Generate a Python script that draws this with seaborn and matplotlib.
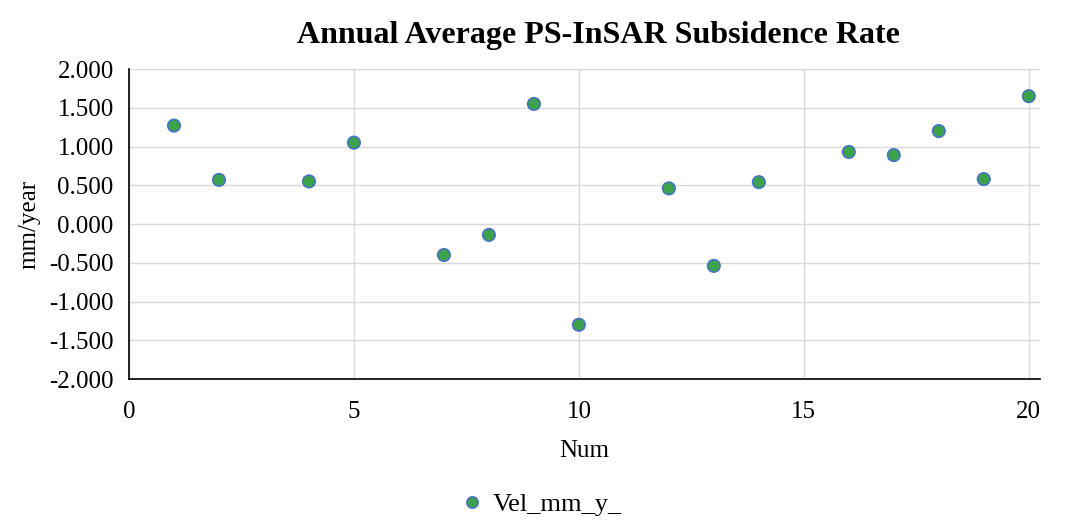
import matplotlib
matplotlib.use("Agg")
import matplotlib.pyplot as plt
import seaborn as sns
import pandas as pd
from matplotlib.ticker import FormatStrFormatter

num = [1, 2, 4, 5, 7, 8, 9, 10, 12, 13, 14, 16, 17, 18, 19, 20]
vel = [1.27, 0.57, 0.55, 1.05, -0.40, -0.14, 1.55, -1.30, 0.46, -0.54, 0.54, 0.93, 0.89, 1.20, 0.58, 1.65]
series_name = "Vel_mm_y_"

df = pd.DataFrame({"Num": num, "vel": vel, "series": series_name})

sns.set_style("white")
plt.rcParams['font.family'] = ['Liberation Serif', 'DejaVu Serif']
plt.rcParams['text.color'] = 'black'
plt.rcParams['axes.labelcolor'] = 'black'
plt.rcParams['xtick.color'] = 'black'
plt.rcParams['ytick.color'] = 'black'

fig = plt.figure(figsize=(10.68, 5.23), dpi=100)
ax = fig.add_axes([0.1208, 0.2753, 0.853, 0.5927])

sns.scatterplot(data=df, x="Num", y="vel", hue="series", palette=["#3da34a"],
                s=80, edgecolor="#4472c4", linewidth=1.2, ax=ax, zorder=3)

ax.set_xlim(0, 20.25)
ax.set_ylim(-2, 2)
ax.set_xticks([0, 5, 10, 15, 20])
ax.set_yticks([-2, -1.5, -1, -0.5, 0, 0.5, 1, 1.5, 2])
ax.yaxis.set_major_formatter(FormatStrFormatter('%.3f'))
ax.grid(True, color="#d9d9d9", linewidth=1)
ax.set_axisbelow(True)
for s in ["top", "right"]:
    ax.spines[s].set_visible(False)
for s in ["left", "bottom"]:
    ax.spines[s].set_color("black")
    ax.spines[s].set_linewidth(1.2)
ax.tick_params(axis="both", labelsize=18, length=0)
ax.tick_params(axis="x", pad=16)
ax.tick_params(axis="y", pad=11)
ax.set_xlabel("Num", fontsize=18, labelpad=12, color="black")
ax.set_ylabel("mm/year", fontsize=18, labelpad=6, color="black")
ax.set_title("Annual Average PS-InSAR Subsidence Rate", fontsize=23, fontweight="bold",
             pad=19, color="black", x=0.515)

ax.legend_.remove()
handles, labels = ax.get_legend_handles_labels()
fig.legend(handles, labels, loc="center", bbox_to_anchor=(0.50, 0.035), frameon=False,
           fontsize=19, handletextpad=-0.2, markerscale=0.9, labelcolor="black")

fig.savefig("out.png", dpi=100)
